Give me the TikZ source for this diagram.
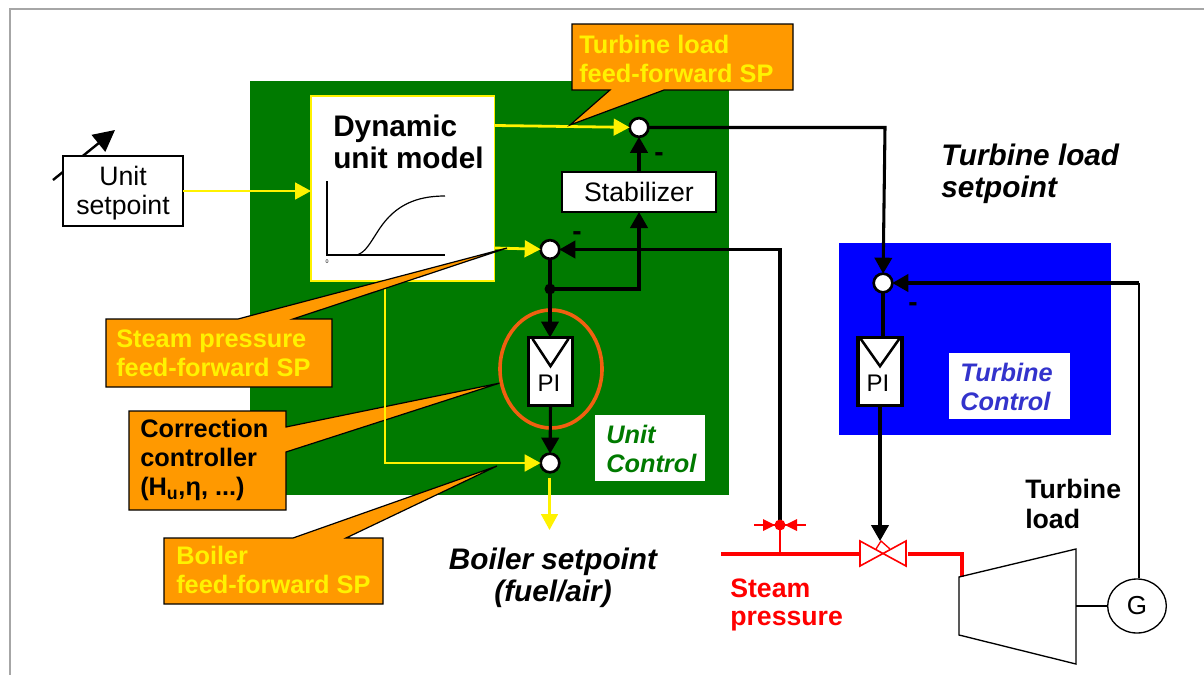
\documentclass[tikz,border=0pt]{standalone}
\usepackage{fontspec}
\setmainfont{Liberation Sans}
\usetikzlibrary{positioning}
\usetikzlibrary{calc}
\usetikzlibrary{arrows.meta}
\usetikzlibrary{shapes.geometric}

\definecolor{unitgreen}{RGB}{0,122,0}
\definecolor{calloutorange}{RGB}{255,153,0}
\definecolor{ringorange}{RGB}{240,96,16}
\definecolor{controlblue}{RGB}{51,51,204}

\tikzset{
  panel/.style={inner sep=0pt, outer sep=0pt},
  blockbox/.style={draw, fill=white, inner sep=0pt, outer sep=0pt, line width=.9pt},
  pibox/.style={draw, fill=white, inner sep=0pt, outer sep=0pt, line width=2.6pt, minimum width=33pt, minimum height=51pt},
  sumpt/.style={circle, draw, fill=white, line width=2pt, minimum size=14pt, inner sep=0pt, outer sep=0pt},
  sig/.style={line width=2.3pt, -{Triangle[length=12pt,width=13pt]}},
  ffsig/.style={yellow, line width=2.1pt, -{Triangle[length=12pt,width=12.5pt]}},
  callout/.style={draw=black, fill=calloutorange, line width=.9pt, line join=miter},
  calltext/.style={anchor=west, align=left, inner sep=0pt, font=\fontsize{19pt}{22pt}\selectfont\bfseries},
  minus/.style={inner sep=0pt, font=\fontsize{21pt}{22pt}\selectfont\bfseries}
}

\begin{document}
\begin{tikzpicture}[x=.75pt, y=-.75pt]
  \useasboundingbox (0,0) rectangle (1204,675);
  \draw[black!35, line width=1.5pt] (10,675) -- (10,9) -- (1204,9);

  \node[panel, fill=unitgreen, minimum width=359.25pt, minimum height=310.5pt] (unit) at (489.5,288) {};
  \node[panel, fill=blue, minimum width=204pt, minimum height=144pt] (turbctrl) at (975,339) {};

  \node[blockbox, draw=yellow, line width=1.1pt, minimum width=137.6pt, minimum height=138.75pt] (model) at (402.75,188.5) {};
  \node[anchor=west, align=left, inner sep=0pt, font=\fontsize{22.3pt}{24pt}\selectfont\bfseries] (model_title) at (333,142) {Dynamic\\unit model};
  \draw[line width=.9pt] (327,181) -- (327,255) -- (445,255);
  \draw[line width=.9pt] (327,255) -- (357,255) .. controls (366,252) and (370,243) .. (380,228) .. controls (395,206) and (415,196) .. (445,196);
  \node[inner sep=0pt, font=\fontsize{4pt}{4pt}\selectfont] (origin) at (327,262) {0};

  \coordinate (knob_a) at (53,180);
  \coordinate (knob_b) at (115,130);
  \draw[line width=1.8pt, -{Triangle[length=16pt,width=16pt]}] (knob_a) -- (knob_b);
  \node[blockbox, minimum width=90pt, minimum height=52.5pt, font=\fontsize{20pt}{21.75pt}\selectfont] (setpoint) at (123,191) {};
  \node[align=center, inner sep=0pt, font=\fontsize{20pt}{21.75pt}\selectfont] (setpoint_text) at (123,193) {Unit\\setpoint};
  \node[blockbox, minimum width=115.5pt, minimum height=30pt, font=\fontsize{20pt}{22pt}\selectfont] (stabilizer) at (639,192) {Stabilizer};

  \draw[callout] (129,411) -- (286,411) -- (286,427) -- (500,383) -- (286,452) -- (286,510) -- (129,510) -- cycle;
  \node[calltext] (corr_text) at (140,460) {Correction\\controller\\(H\textsubscript{u},η, ...)};

  \node[sumpt] (sum_load) at (639,127.5) {};
  \node[sumpt] (sum_press) at (550,249.5) {};
  \node[sumpt] (sum_boiler) at (550,463) {};
  \node[sumpt] (sum_turb) at (883,283) {};
  \node[pibox] (pi_unit) at (550.5,371.5) {};
  \node[pibox] (pi_turb) at (880,371.5) {};
  \draw[line width=1.9pt] ([xshift=-13.5pt,yshift=-1pt]pi_unit.north) -- ([yshift=-21.5pt]pi_unit.north) -- ([xshift=13.5pt,yshift=-1pt]pi_unit.north);
  \draw[line width=1.9pt] ([xshift=-14.5pt,yshift=-1pt]pi_turb.north) -- ([yshift=-21.5pt]pi_turb.north) -- ([xshift=14.5pt,yshift=-1pt]pi_turb.north);
  \node[inner sep=0pt, font=\fontsize{18pt}{20pt}\selectfont] (pi_unit_text) at (549,383) {PI};
  \node[inner sep=0pt, font=\fontsize{18pt}{20pt}\selectfont] (pi_turb_text) at (878,383) {PI};
  \draw[ringorange, line width=2.7pt] (551,369) ellipse [x radius=51, y radius=59];

  \coordinate (model_load) at (495,125.5);
  \coordinate (model_press) at (495,248);
  \coordinate (model_boiler) at (385,281);
  \coordinate (boiler_out) at (549.5,478);
  \coordinate (boiler_sp) at (549.5,530);
  \coordinate (load_corner) at (885,127.5);
  \coordinate (press_branch) at (550,289);
  \coordinate (trans_pt) at (780,525);
  \coordinate (gen_corner) at (1139,283);
  \coordinate (valve_top) at (880,541);

  \draw[ffsig] (setpoint.east) -- (model.west |- setpoint.east);
  \draw[ffsig] (model_load) -- (sum_load);
  \draw[ffsig] (model_press) -- (sum_press);
  \draw[ffsig] (model_boiler) |- (sum_boiler);
  \draw[ffsig] (boiler_out) -- (boiler_sp);

  \draw[sig] (stabilizer.north) -- (sum_load);
  \draw[sig] (sum_load) -- (load_corner) -- (sum_turb);
  \draw[sig] (trans_pt) |- (sum_press);
  \draw[sig] (sum_press) -- (pi_unit.north -| sum_press);
  \draw[sig] (press_branch) -| (stabilizer.south);
  \fill (press_branch) circle [radius=5.5];
  \draw[sig] (pi_unit.south) -- (sum_boiler);
  \draw[line width=2.3pt] (sum_turb) -- (pi_turb.north -| sum_turb);

  \node[minus] (minus_load) at (659,157) {-};
  \node[minus] (minus_press) at (577,236) {-};
  \node[minus] (minus_turb) at (913,307) {-};

  \draw[callout] (572,24) -- (793,24) -- (793,90) -- (664,90) -- (570,125) -- (610,90) -- (572,90) -- cycle;
  \node[calltext, text=yellow] (load_text) at (579,59) {Turbine load\\feed-forward SP};
  \draw[callout] (106,319) -- (238,319) -- (507,248) -- (293,319) -- (332,319) -- (332,387) -- (106,387) -- cycle;
  \node[calltext, text=yellow] (press_text) at (116,353) {Steam pressure\\feed-forward SP};
  \draw[callout] (164,538) -- (293,538) -- (497,466) -- (346,538) -- (383,538) -- (383,604) -- (164,604) -- cycle;
  \node[calltext, text=yellow] (boiler_text) at (176,570) {Boiler\\feed-forward SP};

  \node[panel, fill=white, minimum width=82.5pt, minimum height=49.5pt] (unit_tag) at (650,448) {};
  \node[calltext, text=unitgreen, font=\fontsize{19pt}{22pt}\selectfont\bfseries\itshape] (unit_text) at (606,449) {Unit\\Control};
  \node[panel, fill=white, minimum width=90.75pt, minimum height=49.5pt] (turb_tag) at (1009.5,386) {};
  \node[calltext, text=controlblue, font=\fontsize{19pt}{22pt}\selectfont\bfseries\itshape] (turb_text) at (960,387) {Turbine\\Control};

  \node[align=left, inner sep=0pt, anchor=west, font=\fontsize{22.3pt}{24pt}\selectfont\bfseries\itshape] (load_sp) at (941,174) {Turbine load\\setpoint};
  \node[align=center, inner sep=0pt, font=\fontsize{22.3pt}{24pt}\selectfont\bfseries\itshape] (boiler_sp_text) at (553,578) {Boiler setpoint\\(fuel/air)};
  \node[align=left, inner sep=0pt, anchor=west, font=\fontsize{20pt}{22pt}\selectfont\bfseries] (load_text2) at (1025,504) {Turbine\\load};
  \node[align=left, inner sep=0pt, anchor=west, text=red, font=\fontsize{20pt}{21.5pt}\selectfont\bfseries] (steam_text) at (730,605) {Steam\\pressure};

  % steam line, valve and turbine
  \coordinate (steam_in) at (721,554);
  \coordinate (steam_out) at (908,554);
  \coordinate (steam_corner) at (962,554);
  \coordinate (turb_in) at (962,577);
  \draw[red, line width=2.6pt] (steam_in) -- (860,554);
  \draw[red, line width=2.6pt] (steam_out) -- (steam_corner) -- (turb_in);
  \draw[red, line width=.9pt] (trans_pt) -- (trans_pt |- steam_in);
  \draw[red, line width=.8pt] (754,525) -- (806,525);
  \fill[red] (763,519) -- (775,525) -- (763,531) -- cycle;
  \fill[red] (797,519) -- (785,525) -- (797,531) -- cycle;
  \fill[red] (trans_pt) circle [radius=5.5];
  \draw[red, line width=1.2pt] (860,541) -- (906,566) -- (906,541) -- (860,566) -- cycle;
  \draw[red, line width=1pt] (876,549) -- (881,541) -- (890,549);
  \draw[sig] (pi_turb.south) -- (valve_top);

  \draw[line width=1pt] (959,577) -- (1076,549) -- (1076,664) -- (959,635) -- cycle;
  \node[ellipse, draw, fill=white, line width=1pt, inner sep=0pt, minimum width=44pt, minimum height=40.5pt, font=\fontsize{19.5pt}{20pt}\selectfont] (gen) at (1137,606) {G};
  \coordinate (turb_shaft) at (1076,606);
  \draw[line width=2.2pt] (turb_shaft) -- (gen.west);
  \draw[line width=2pt] (gen.north -| gen_corner) -- (gen_corner);
  \draw[sig] (gen_corner) -- (sum_turb);
\end{tikzpicture}
\end{document}
